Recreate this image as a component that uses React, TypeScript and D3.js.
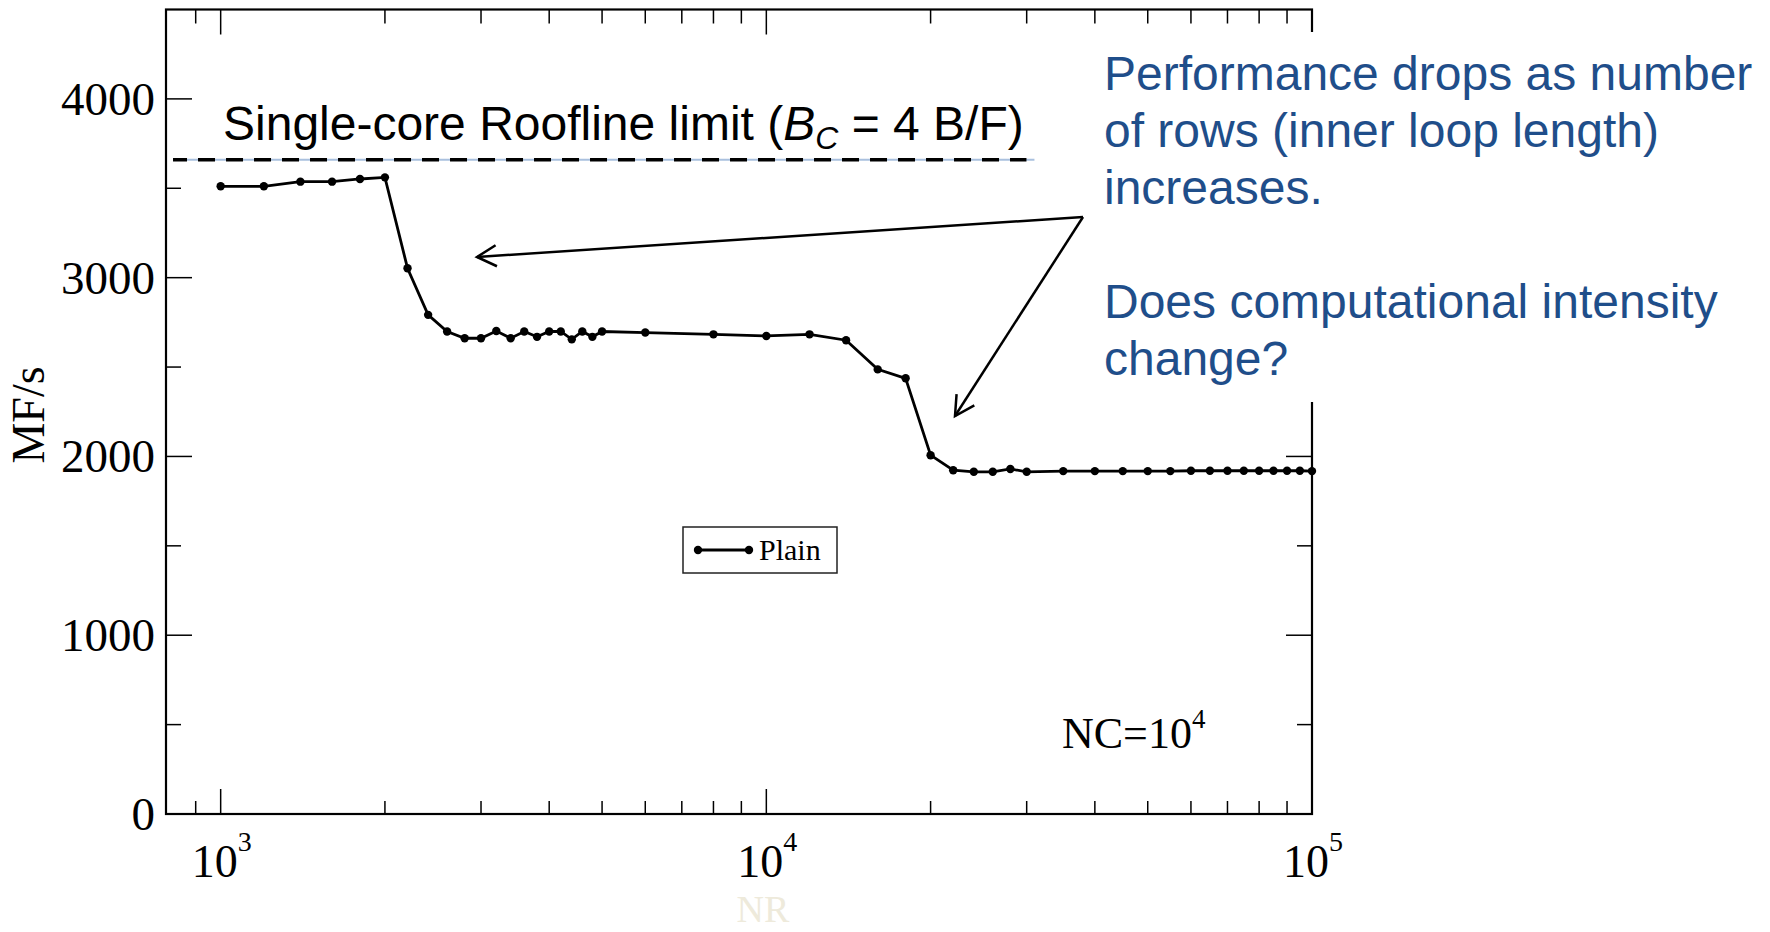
import React from "react";
import * as d3 from "d3";

// ---- data ----
const nrValues = [1000,1200,1400,1600,1800,2000,2200,2400,2600,2800,3000,3200,3400,3600,3800,4000,4200,4400,4600,4800,5000,6000,8000,10000,12000,14000,16000,18000,20000,22000,24000,26000,28000,30000,35000,40000,45000,50000,55000,60000,65000,70000,75000,80000,85000,90000,95000,100000];
const mflopValues = [3511,3511,3537,3537,3552,3561,3053,2792,2699,2661,2661,2702,2661,2699,2669,2699,2699,2655,2699,2669,2699,2693,2683,2674,2683,2650,2487,2437,2007,1923,1914,1914,1930,1914,1918,1918,1918,1918,1918,1920,1920,1920,1920,1920,1920,1920,1920,1918];
const rooflineValue = 3660;
const rooflineRange = [1010, 31000];
const xDomain = [794, 100000];
const yDomain = [0, 4500];
const yMajorTicks = [0, 1000, 2000, 3000, 4000];
const yMinorTicks = [500, 1500, 2500, 3500];
const xMajorTicks = [1000, 10000, 100000];
const xMajorExponents = ["3", "4", "5"];
const xMinorTicks = [900,2000,3000,4000,5000,6000,7000,8000,9000,20000,30000,40000,50000,60000,70000,80000,90000];
const noteLines = [
  "Performance drops as number",
  "of rows (inner loop length)",
  "increases.",
  "",
  "Does computational intensity",
  "change?",
];

const W = 1770, H = 932;
const L = 166, R = 1312, T = 9.5, B = 814;
const serif = "'Liberation Serif', 'Times New Roman', serif";
const sans = "'Liberation Sans', Arial, sans-serif";
const blue = "#1F4E8A";

function arrowHead(x1: number, y1: number, x2: number, y2: number, len = 22, ang = 0.5) {
  const a = Math.atan2(y1 - y2, x1 - x2);
  const p1 = [x2 + len * Math.cos(a + ang), y2 + len * Math.sin(a + ang)];
  const p2 = [x2 + len * Math.cos(a - ang), y2 + len * Math.sin(a - ang)];
  return `M${p1[0]},${p1[1]}L${x2},${y2}L${p2[0]},${p2[1]}`;
}

export default function App() {
  const x = d3.scaleLog().domain(xDomain).range([L, R]);
  const y = d3.scaleLinear().domain(yDomain).range([B, T]);
  const pts = nrValues.map((n, i) => [n, mflopValues[i]] as [number, number]);
  const line = d3.line<[number, number]>().x(d => x(d[0])).y(d => y(d[1]));
  const ry = y(rooflineValue);

  const origin = [1083, 217];
  const tip1 = [477, 257];
  const tip2 = [955, 416];

  return (
    <svg width={W} height={H} style={{ position: "absolute", left: 0, top: 0, display: "block", background: "#fff" }}>
      <rect x={0} y={0} width={W} height={H} fill="#fff" />
      {/* ticks */}
      <g stroke="#000" strokeWidth={1.5}>
        {yMajorTicks.map(t => (
          <g key={"ym" + t}>
            <line x1={L} x2={L + 26} y1={y(t)} y2={y(t)} />
            <line x1={R} x2={R - 26} y1={y(t)} y2={y(t)} />
          </g>
        ))}
        {yMinorTicks.map(t => (
          <g key={"yn" + t}>
            <line x1={L} x2={L + 15} y1={y(t)} y2={y(t)} />
            <line x1={R} x2={R - 15} y1={y(t)} y2={y(t)} />
          </g>
        ))}
        {xMajorTicks.map(t => (
          <g key={"xm" + t}>
            <line x1={x(t)} x2={x(t)} y1={B} y2={B - 25} />
            <line x1={x(t)} x2={x(t)} y1={T} y2={T + 25} />
          </g>
        ))}
        {xMinorTicks.map(t => (
          <g key={"xn" + t}>
            <line x1={x(t)} x2={x(t)} y1={B} y2={B - 13} />
            <line x1={x(t)} x2={x(t)} y1={T} y2={T + 14} />
          </g>
        ))}
      </g>
      {/* frame */}
      <rect x={L} y={T} width={R - L} height={B - T} fill="none" stroke="#000" strokeWidth={2.2} />

      {/* y tick labels */}
      {yMajorTicks.map(t => (
        <text key={"yl" + t} x={155} y={y(t) + 16} textAnchor="end" fontFamily={serif} fontSize={47} fill="#000">{t}</text>
      ))}
      {/* x tick labels */}
      {xMajorTicks.map((t, i) => (
        <text key={"xl" + t} x={x(t) + 1} y={877} textAnchor="middle" fontFamily={serif} fontSize={46} fill="#000">
          10<tspan dy={-26} fontSize={28}>{xMajorExponents[i]}</tspan>
        </text>
      ))}
      <text x={763} y={922} textAnchor="middle" fontFamily={serif} fontSize={38} fill="#EEEADB">NR</text>
      <text transform="translate(44,415) rotate(-90)" textAnchor="middle" fontFamily={serif} fontSize={46} fill="#000">MF/s</text>

      {/* roofline */}
      <line x1={x(rooflineRange[0]) - 50} x2={x(rooflineRange[1])} y1={ry} y2={ry} stroke="#A9C0DE" strokeWidth={2} />
      <line x1={x(rooflineRange[0]) - 50} x2={x(rooflineRange[1]) - 8} y1={ry} y2={ry} stroke="#000" strokeWidth={3.5} strokeDasharray="17 11" strokeDashoffset={3} />
      <text x={223} y={140} fontFamily={sans} fontSize={48} fill="#000">
        Single-core Roofline limit (<tspan fontStyle="italic">B</tspan><tspan fontStyle="italic" fontSize={32} dy={9}>C</tspan><tspan dy={-9}> = 4 B/F)</tspan>
      </text>

      {/* data */}
      <path d={line(pts) || ""} fill="none" stroke="#000" strokeWidth={2.8} />
      {pts.map((p, i) => (
        <circle key={"p" + i} cx={x(p[0])} cy={y(p[1])} r={4.2} fill="#000" />
      ))}

      {/* legend */}
      <rect x={683} y={527} width={154} height={46} fill="#fff" stroke="#222" strokeWidth={1.5} />
      <line x1={698} x2={749} y1={550} y2={550} stroke="#000" strokeWidth={2.8} />
      <circle cx={698} cy={550} r={4.2} fill="#000" />
      <circle cx={749} cy={550} r={4.2} fill="#000" />
      <text x={759} y={560} fontFamily={serif} fontSize={30} fill="#000">Plain</text>

      <text x={1062} y={748} fontFamily={serif} fontSize={44} fill="#000">
        NC=10<tspan dy={-20} fontSize={27}>4</tspan>
      </text>

      {/* annotation box */}
      <rect x={1090} y={32} width={W - 1090} height={370} fill="#fff" />
      {noteLines.map((s, i) => (
        <text key={"n" + i} x={1104} y={90 + i * 57} fontFamily={sans} fontSize={48} fill={blue}>{s}</text>
      ))}

      {/* arrows */}
      <g stroke="#000" strokeWidth={2.5} fill="none">
        <line x1={origin[0]} y1={origin[1]} x2={tip1[0]} y2={tip1[1]} />
        <path d={arrowHead(origin[0], origin[1], tip1[0], tip1[1])} />
        <line x1={origin[0]} y1={origin[1]} x2={tip2[0]} y2={tip2[1]} />
        <path d={arrowHead(origin[0], origin[1], tip2[0], tip2[1])} />
      </g>
    </svg>
  );
}
